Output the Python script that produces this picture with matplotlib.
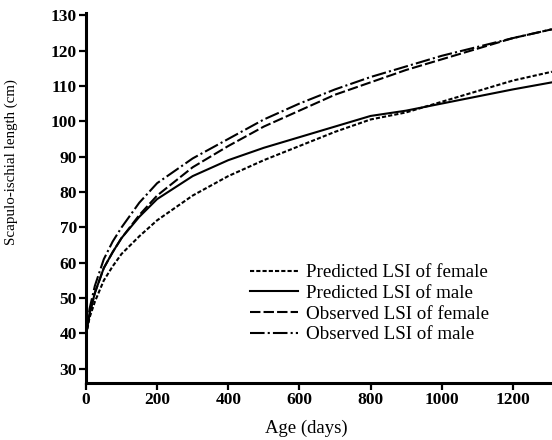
import matplotlib
matplotlib.use('Agg')
import matplotlib.pyplot as plt

age = [0, 10, 25, 50, 75, 100, 150, 200, 300, 400, 500, 600, 700, 800, 900, 1000, 1100, 1200, 1310]

# scapulo-ischial length (cm)
pred_female = [39.5, 44.5, 49, 55, 59, 62.5, 67.5, 72, 79, 84.5, 89, 93, 97, 100.5, 102.5, 105.5, 108.5, 111.5, 114]
pred_male = [39.5, 45.5, 51.5, 58.5, 63, 67, 73, 78, 84.5, 89, 92.5, 95.5, 98.5, 101.5, 103, 105, 107, 109, 111]
obs_female = [39.5, 45.5, 51.5, 58.5, 63, 67, 73.5, 79, 87, 93, 98.5, 103, 107.5, 111, 114.5, 117.5, 120.5, 123.5, 126]
obs_male = [39.5, 47, 53.5, 61, 66, 70, 77, 82.5, 89.5, 95, 100.5, 105, 109, 112.5, 115.5, 118.5, 121, 123.5, 126]

labels = ['Predicted LSI of female', 'Predicted LSI of male',
          'Observed LSI of female', 'Observed LSI of male']

plt.rcParams['font.family'] = ['Liberation Serif', 'DejaVu Serif']

fig = plt.figure(figsize=(5.52, 4.4), dpi=100)
ax = fig.add_axes([0.1558, 0.1295, 0.844, 0.8409])

ax.plot(age, pred_female, color='black', lw=1.5, dashes=(2, 1), label=labels[0])
ax.plot(age, pred_male, color='black', lw=1.5, label=labels[1])
ax.plot(age, obs_female, color='black', lw=1.5, dashes=(5, 1.5), label=labels[2])
ax.plot(age, obs_male, color='black', lw=1.5, dashes=(7, 1.5, 1, 1.5), label=labels[3])

ax.set_xlim(0, 1310)
ax.set_ylim(26, 130.6)
ax.set_xticks(range(0, 1201, 200))
ax.set_yticks(range(30, 131, 10))

for s in ['top', 'right']:
    ax.spines[s].set_visible(False)
for s in ['left', 'bottom']:
    ax.spines[s].set_linewidth(2.2)

ax.tick_params(direction='out', length=5, width=1.6, labelsize=12.5, pad=1.5)
for lab in ax.get_xticklabels() + ax.get_yticklabels():
    lab.set_fontweight('bold')

ax.set_xlabel('Age (days)', fontsize=13.5)
ax.xaxis.set_label_coords(0.472, -0.1)
ax.set_ylabel('Scapulo-ischial length (cm)', fontsize=10.8)
ax.yaxis.set_label_coords(-0.145, 0.597)

ax.legend(loc='upper left', bbox_to_anchor=(0.352, 0.322), frameon=False,
          fontsize=13.7, handlelength=2.5, handletextpad=0.45,
          labelspacing=0.18, borderaxespad=0, borderpad=0)

plt.savefig('out.png', dpi=100)
